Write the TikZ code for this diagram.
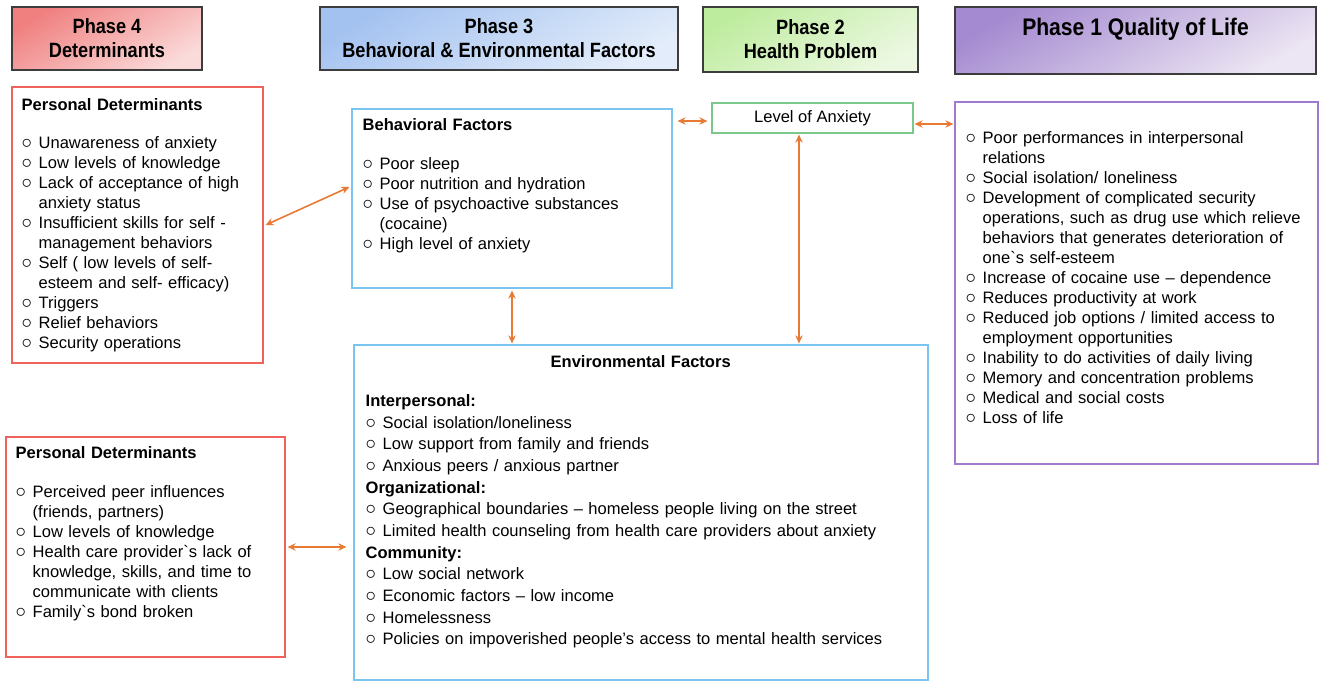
\documentclass[tikz,border=0pt]{standalone}
\usepackage{fontspec}
\setmainfont{Liberation Sans}
\newfontfamily\hdrfont[FakeStretch=0.88]{Liberation Sans}
\usepackage{xcolor}
\usepackage{graphicx}
\usepackage{tikz}
\usetikzlibrary{positioning, calc, arrows.meta, shadows}

\definecolor{LinkOrange}{RGB}{232,122,52}
\definecolor{PdRed}{RGB}{240,98,92}
\definecolor{EnvBlue}{RGB}{122,196,240}
\definecolor{LevGreen}{RGB}{122,200,140}
\definecolor{QolPurple}{RGB}{160,122,205}
\definecolor{HdrLine}{RGB}{60,60,60}
\definecolor{PhFourTop}{RGB}{240,128,128}
\definecolor{PhFourBot}{RGB}{251,218,218}
\definecolor{PhThreeTop}{RGB}{164,194,240}
\definecolor{PhThreeBot}{RGB}{226,236,250}
\definecolor{PhTwoTop}{RGB}{190,236,158}
\definecolor{PhTwoBot}{RGB}{236,248,226}
\definecolor{PhOneTop}{RGB}{164,138,208}
\definecolor{PhOneBot}{RGB}{236,229,243}

\newcommand{\itm}[1]{\par\noindent\hangindent=12.75pt\hangafter=1\makebox[12.75pt][l]{\scalebox{1.3}{$\circ$}}#1\par}

\begin{document}
\begin{tikzpicture}[x=0.75pt, y=-0.75pt]
    \tikzset{PhaseStyle/.style = {draw=HdrLine, line width=1.1pt, align=center, inner sep=2pt,
        font=\hdrfont\bfseries\fontsize{15.5}{18}\selectfont,
        drop shadow={opacity=0.3, shadow xshift=1pt, shadow yshift=-1pt}}}
    \tikzset{BoxStyle/.style = {draw=#1, line width=0.9pt, inner sep=0pt, fill=white}}
    \tikzset{TextStyle/.style = {anchor=north west, inner sep=0pt, align=left, font=\fontsize{12.4}{15}\selectfont}}
    \tikzset{LinkStyle/.style = {line width=1.2pt, draw=LinkOrange, {Stealth[length=6pt,width=5.5pt]}-{Stealth[length=6pt,width=5.5pt]}}}
    \fill[white] (0,0) rectangle (1325,688);
    % phase headers
    \node[PhaseStyle, top color=PhFourTop, bottom color=PhFourBot, shading angle=30, minimum width=142.5pt, minimum height=47.25pt] (ph4) at (107,38.5) {Phase 4\\Determinants};
    \node[PhaseStyle, top color=PhThreeTop, bottom color=PhThreeBot, shading angle=30, minimum width=268.5pt, minimum height=47.25pt] (ph3) at (499,38.5) {Phase 3\\Behavioral \& Environmental Factors};
    \node[PhaseStyle, top color=PhTwoTop, bottom color=PhTwoBot, shading angle=30, minimum width=161.25pt, minimum height=48.75pt] (ph2) at (810.5,39.5) {Phase 2\\Health Problem};
    \node[PhaseStyle, top color=PhOneTop, bottom color=PhOneBot, shading angle=30, minimum width=270.75pt, minimum height=50.25pt, font=\hdrfont\bfseries\fontsize{18}{20}\selectfont, text height=13pt, text depth=20.5pt] (ph1) at (1135.5,40.5) {Phase 1 Quality of Life};
    % boxes
    \node[BoxStyle=PdRed, minimum width=188.25pt, minimum height=207pt] (pd1) at (137.5,225) {};
    \node[BoxStyle=EnvBlue, minimum width=240pt, minimum height=134.25pt] (beh) at (512,198.5) {};
    \node[BoxStyle=LevGreen, minimum width=150.75pt, minimum height=22.5pt, font=\fontsize{12.4}{15}\selectfont] (lev) at (812.5,118) {Level of Anxiety};
    \node[BoxStyle=QolPurple, minimum width=272.25pt, minimum height=271.5pt] (qol) at (1136.5,283) {};
    \node[BoxStyle=EnvBlue, minimum width=430.5pt, minimum height=251.25pt] (env) at (641,512.5) {};
    \node[BoxStyle=PdRed, minimum width=209.25pt, minimum height=165pt] (pd2) at (145.5,547) {};
    % box texts
    \node[TextStyle, text width=182pt, below right=9pt and 7.5pt of pd1.north west] (pd1t) {\textbf{Personal Determinants}\par\vspace{13.5pt}
        \itm{Unawareness of anxiety}
        \itm{Low levels of knowledge}
        \itm{Lack of acceptance of high\newline anxiety status}
        \itm{Insufficient skills for self -\newline management behaviors}
        \itm{Self ( low levels of self-\newline esteem and self- efficacy)}
        \itm{Triggers}
        \itm{Relief behaviors}
        \itm{Security operations}};
    \node[TextStyle, text width=232pt, below right=7.5pt and 8.25pt of beh.north west] (beht) {\textbf{Behavioral Factors}\par\vspace{14.5pt}
        \itm{Poor sleep}
        \itm{Poor nutrition and hydration}
        \itm{Use of psychoactive substances\newline (cocaine)}
        \itm{High level of anxiety}};
    \node[TextStyle, text width=265pt, below right=16.75pt and 8.25pt of qol.north west] (qolt) {%
        \itm{Poor performances in interpersonal\newline relations}
        \itm{Social isolation/ loneliness}
        \itm{Development of complicated security\newline operations, such as drug use which relieve\newline behaviors that generates deterioration of\newline one\textasciigrave s self-esteem}
        \itm{Increase of cocaine use -- dependence}
        \itm{Reduces productivity at work}
        \itm{Reduced job options / limited access to\newline employment opportunities}
        \itm{Inability to do activities of daily living}
        \itm{Memory and concentration problems}
        \itm{Medical and social costs}
        \itm{Loss of life}};
    \node[TextStyle, text width=412.5pt, font=\fontsize{12.4}{16.25}\selectfont, below right=8.25pt and 9pt of env.north west] (envt) {\centerline{\textbf{Environmental Factors}}\vspace{13pt}
        \textbf{Interpersonal:}\par
        \itm{Social isolation/loneliness}
        \itm{Low support from family and friends}
        \itm{Anxious peers / anxious partner}
        \textbf{Organizational:}\par
        \itm{Geographical boundaries -- homeless people living on the street}
        \itm{Limited health counseling from health care providers about anxiety}
        \textbf{Community:}\par
        \itm{Low social network}
        \itm{Economic factors -- low income}
        \itm{Homelessness}
        \itm{Policies on impoverished people’s access to mental health services}};
    \node[TextStyle, text width=200pt, below right=7.5pt and 7.5pt of pd2.north west] (pd2t) {\textbf{Personal Determinants}\par\vspace{14pt}
        \itm{Perceived peer influences\newline (friends, partners)}
        \itm{Low levels of knowledge}
        \itm{Health care provider\textasciigrave s lack of\newline knowledge, skills, and time to\newline communicate with clients}
        \itm{Family\textasciigrave s bond broken}};
    % links
    \draw[LinkStyle] ($(pd1.east)+(2,0)$) -- ($(beh.west)+(-2,-11.5)$);
    \draw[LinkStyle] ($(beh.east |- lev.west)+(5,3)$) -- ($(lev.west)+(-4,3)$);
    \draw[LinkStyle] ($(lev.east)+(1,6)$) -- ($(lev.east -| qol.west)+(-1,6)$);
    \draw[LinkStyle] ($(lev.south)+(-13.5,1)$) -- ($(lev.south |- env.north)+(-13.5,-1)$);
    \draw[LinkStyle] ($(beh.south)+(0,2)$) -- ($(beh.south |- env.north)+(0,-1)$);
    \draw[LinkStyle] ($(pd2.east)+(2,0)$) -- ($(pd2.east -| env.west)+(-7,0)$);
\end{tikzpicture}
\end{document}
